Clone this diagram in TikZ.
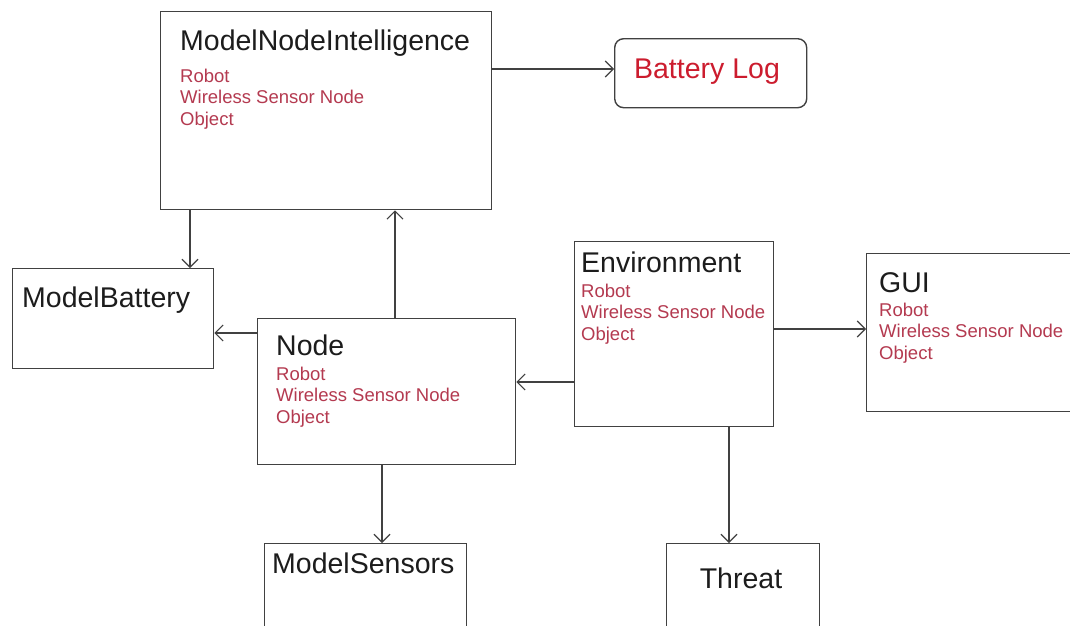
\documentclass[tikz,border=0pt]{standalone}
\usepackage{fontspec}
\setmainfont{Liberation Sans}
\usetikzlibrary{arrows.meta}
\definecolor{boxline}{RGB}{65,65,65}
\definecolor{titlecol}{RGB}{28,28,28}
\definecolor{subcol}{RGB}{180,58,80}
\definecolor{logcol}{RGB}{204,28,46}
\tikzset{
  box/.style={draw=boxline, line width=1.4pt, anchor=north west, inner sep=0pt, fill=white},
  roundbox/.style={box, rounded corners=9pt},
  title/.style={anchor=west, inner sep=0pt, text=titlecol, font=\fontsize{28.5}{32}\selectfont},
  sub/.style={anchor=west, inner sep=0pt, align=left, text=subcol, font=\fontsize{18.5}{21.5}\selectfont},
  arr/.style={draw=boxline, line width=1.1pt, -{Straight Barb[length=8pt,width=16pt,line width=1.1pt]}}
}
\begin{document}
\begin{tikzpicture}[x=1pt,y=-1pt]
\useasboundingbox (0,0) rectangle (1070,625);
\clip (0,0) rectangle (1070,625);
\fill[white] (0,0) rectangle (1070,625);
% boxes
\node[box, minimum width=331pt, minimum height=198pt] (mni) at (160,11) {};
\node[roundbox, minimum width=192pt, minimum height=69pt] (bl) at (614,38) {};
\node[box, minimum width=201pt, minimum height=100pt] (mb) at (12,268) {};
\node[box, minimum width=258pt, minimum height=146pt] (nd) at (257,318) {};
\node[box, minimum width=199pt, minimum height=185pt] (env) at (574,241) {};
\node[box, minimum width=240pt, minimum height=158pt] (gui) at (866,253) {};
\node[box, minimum width=202pt, minimum height=110pt] (ms) at (264,543) {};
\node[box, minimum width=153pt, minimum height=110pt] (th) at (666,543) {};
% texts
\node[title] (mnit) at (180,43) {ModelNodeIntelligence};
\node[sub] (mnis) at (180,99) {Robot\\Wireless Sensor Node\\Object};
\node[anchor=center, inner sep=0pt, text=logcol, font=\fontsize{28.5}{32}\selectfont] (blt) at (707,72) {Battery Log};
\node[title] (mbt) at (22,300) {ModelBattery};
\node[title] (ndt) at (276,345) {Node};
\node[sub] (nds) at (276,397) {Robot\\Wireless Sensor Node\\Object};
\node[title] (envt) at (581,262) {Environment};
\node[sub] (envs) at (581,314) {Robot\\Wireless Sensor Node\\Object};
\node[title] (guit) at (879,283) {GUI};
\node[sub] (guis) at (879,333) {Robot\\Wireless Sensor Node\\Object};
\node[title] (mst) at (272,563) {ModelSensors};
\node[title, anchor=center] (tht) at (741,578) {Threat};
% connectors
\draw[arr] (mni.north east) ++(0,58) coordinate (c1) -- (c1 -| bl.west);
\draw[arr] (mni.south west) ++(30,0) coordinate (c2) -- (c2 |- mb.north);
\draw[arr] (nd.north west) ++(138,0) coordinate (c3) -- (c3 |- mni.south);
\draw[arr] (nd.north west) ++(0,15) coordinate (c4) -- (c4 -| mb.east);
\draw[arr] (env.north west) ++(0,141) coordinate (c5) -- (c5 -| nd.east);
\draw[arr] (env.north east) ++(0,88) coordinate (c6) -- (c6 -| gui.west);
\draw[arr] (nd.south west) ++(125,0) coordinate (c7) -- (c7 |- ms.north);
\draw[arr] (env.south west) ++(155,0) coordinate (c8) -- (c8 |- th.north);
\end{tikzpicture}
\end{document}
